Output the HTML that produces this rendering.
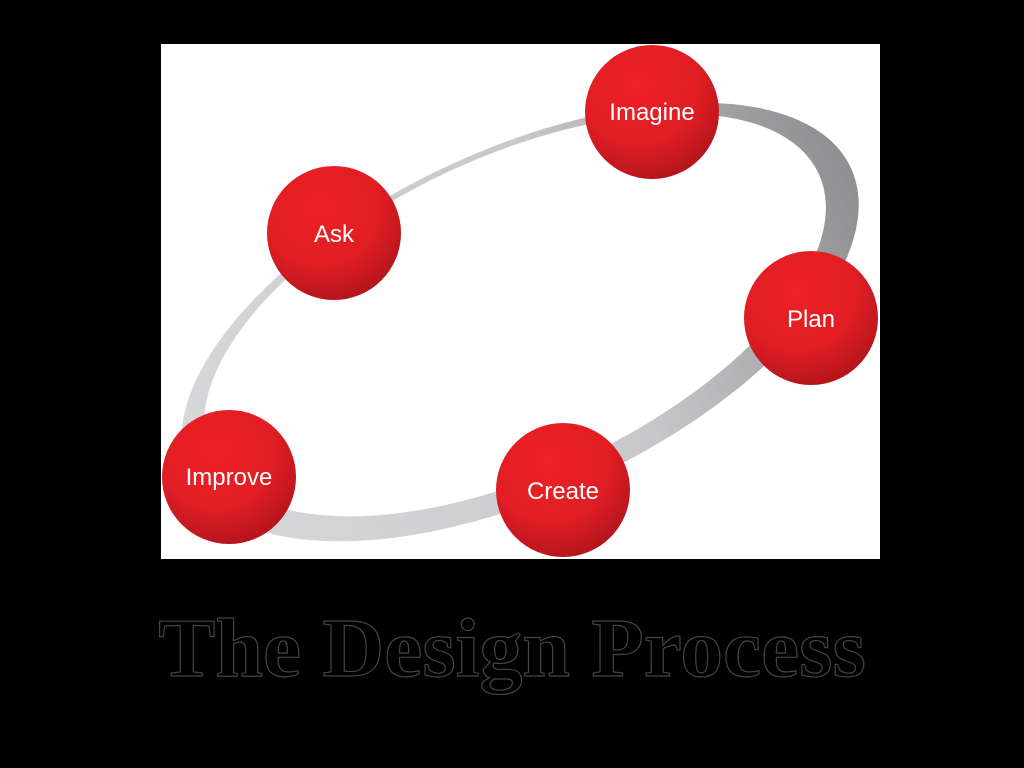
<!DOCTYPE html>
<html><head><meta charset="utf-8"><style>
html,body{margin:0;padding:0;background:#000;width:1024px;height:768px;overflow:hidden}
.title{position:absolute;left:0;width:1024px;top:604px;text-align:center;font-family:"Liberation Serif",serif;font-weight:bold;font-size:84px;color:#000;-webkit-text-stroke:1.2px #444;line-height:90px;transform:scaleX(1.02);transform-origin:512px 0}
</style></head><body>
<svg width="1024" height="768" style="position:absolute;left:0;top:0">
<defs>
<radialGradient id="r" cx="0.4" cy="0.3" r="0.8">
<stop offset="0" stop-color="#ee2126"/><stop offset="0.55" stop-color="#e01e24"/><stop offset="1" stop-color="#a8121a"/>
</radialGradient>
<linearGradient id="g" x1="0" y1="0" x2="1" y2="0">
<stop offset="0" stop-color="#d8d8da"/><stop offset="0.6" stop-color="#c8c8ca"/><stop offset="1" stop-color="#8f8f92"/>
</linearGradient>
</defs>
<rect x="161" y="44" width="719" height="515" fill="#fff"/>
<g transform="rotate(-25 520 322)">
<ellipse cx="520" cy="322" rx="365" ry="172" fill="url(#g)"/>
</g>
<g transform="rotate(-25 515 315)">
<ellipse cx="515" cy="315" rx="335" ry="158" fill="#fff"/>
</g>
<g font-family="Liberation Sans,sans-serif" font-size="24" fill="#fff" text-anchor="middle">
<circle cx="652" cy="112" r="67" fill="url(#r)"/><text x="652" y="120">Imagine</text>
<circle cx="334" cy="233" r="67" fill="url(#r)"/><text x="334" y="242">Ask</text>
<circle cx="811" cy="318" r="67" fill="url(#r)"/><text x="811" y="327">Plan</text>
<circle cx="229" cy="477" r="67" fill="url(#r)"/><text x="229" y="485">Improve</text>
<circle cx="563" cy="490" r="67" fill="url(#r)"/><text x="563" y="499">Create</text>
</g>
</svg>
<div class="title">The Design Process</div>
</body></html>
